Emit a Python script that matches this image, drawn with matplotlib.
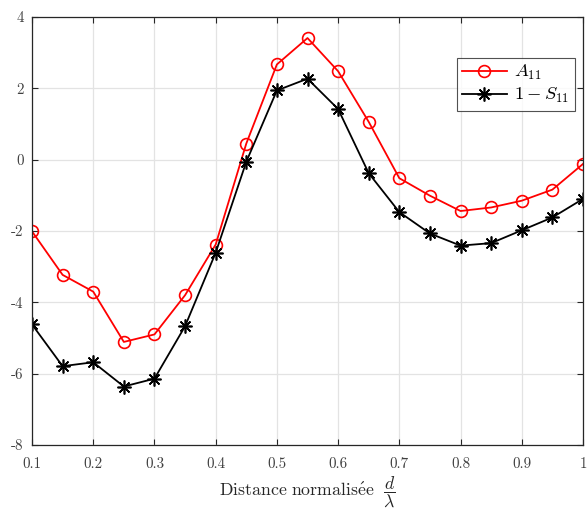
import matplotlib
matplotlib.use("Agg")
import matplotlib.pyplot as plt

x = [0.1, 0.15, 0.2, 0.25, 0.3, 0.35, 0.4, 0.45, 0.5, 0.55,
     0.6, 0.65, 0.7, 0.75, 0.8, 0.85, 0.9, 0.95, 1.0]
a11 = [-2.01, -3.23, -3.70, -5.11, -4.90, -3.80, -2.38, 0.45, 2.67, 3.41,
       2.48, 1.06, -0.52, -1.01, -1.44, -1.34, -1.15, -0.84, -0.12]
one_minus_s11 = [-4.62, -5.79, -5.68, -6.36, -6.14, -4.67, -2.61, -0.06, 1.94, 2.27,
                 1.42, -0.38, -1.47, -2.07, -2.41, -2.34, -1.98, -1.62, -1.10]
xticks = [0.1, 0.2, 0.3, 0.4, 0.5, 0.6, 0.7, 0.8, 0.9, 1.0]
xticklabels = ["0.1", "0.2", "0.3", "0.4", "0.5", "0.6", "0.7", "0.8", "0.9", "1"]
yticks = [-8, -6, -4, -2, 0, 2, 4]
yticklabels = ["-8", "-6", "-4", "-2", "0", "2", "4"]

plt.rcParams["mathtext.fontset"] = "cm"
plt.rcParams["font.family"] = ["cmr10", "DejaVu Serif"]
plt.rcParams["axes.unicode_minus"] = False

fig = plt.figure(figsize=(5.87, 5.12), dpi=100)
ax = fig.add_axes([32/587, 67/512, 551/587, 428/512])

ax.plot(x, a11, color="red", lw=1.3, marker="o", ms=8.5, mfc="none",
        mec="red", mew=1.2, label=r"$A_{11}$")
ax.plot(x, one_minus_s11, color="black", lw=1.3, marker=(8, 2, 0), ms=10,
        mec="black", mew=1.2, label=r"$1-S_{11}$")

ax.set_xlim(0.1, 1.0)
ax.set_ylim(-8, 4)
ax.set_xticks(xticks)
ax.set_xticklabels(xticklabels)
ax.set_yticks(yticks)
ax.set_yticklabels(yticklabels)
ax.grid(True, color="#e3e3e3", lw=0.9)
ax.set_axisbelow(True)
for s in ax.spines.values():
    s.set_color("#262626")
    s.set_linewidth(0.9)
ax.tick_params(direction="in", top=True, right=True, length=4, width=0.8,
               color="#262626", labelsize=10.8, labelcolor="#404040")
ax.tick_params(axis="x", pad=9)
ax.tick_params(axis="y", pad=6)

ax.set_xlabel(r"$\mathrm{Distance\ normalis\acute{e}e}\ \ \dfrac{d}{\lambda}$",
              fontsize=12.8, color="#262626", labelpad=3)

leg = ax.legend(loc="upper right", bbox_to_anchor=(0.985, 0.905),
                fontsize=13.3, frameon=True, fancybox=False, handlelength=2.4,
                borderpad=0.3, labelspacing=0.2, handletextpad=0.4,
                borderaxespad=0)
leg.get_frame().set_edgecolor("#262626")
leg.get_frame().set_linewidth(0.8)

fig.savefig("out.png", dpi=100)
